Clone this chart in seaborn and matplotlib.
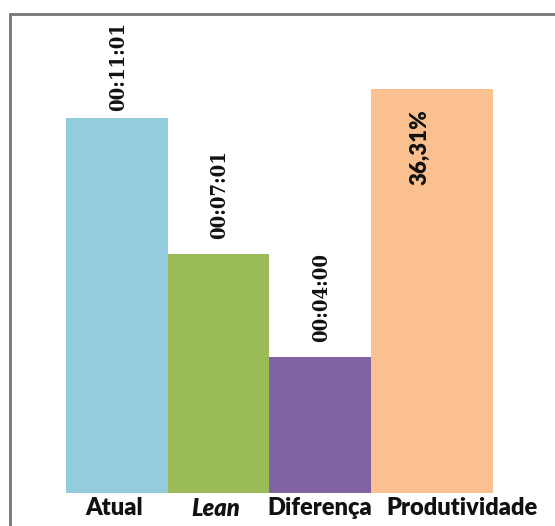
import matplotlib
matplotlib.use("Agg")
import matplotlib.pyplot as plt
import seaborn as sns
from matplotlib.lines import Line2D
from matplotlib.font_manager import FontProperties

categories = ["Atual", "Lean", "Diferença", "Produtividade"]
time_cats = ["Atual", "Lean", "Diferença"]
time_seconds = [661, 421, 240]
time_labels = ["00:11:01", "00:07:01", "00:04:00"]
prod_value = [36.31]
prod_labels = ["36,31%"]
colors = ["#93CDDD", "#9BBB59", "#8064A2", "#FAC090"]

sns.set_theme(style="white")
fig = plt.figure(figsize=(5.55, 5.26), dpi=100)
W, H = 555, 526
ax = fig.add_axes([66 / W, (H - 493) / H, 427 / W, 433 / H])

sns.barplot(x=time_cats, y=time_seconds, order=categories, hue=time_cats,
            palette=colors[:3], width=1.0, saturation=1, legend=False,
            linewidth=0, ax=ax)
ax2 = ax.twinx()
sns.barplot(x=["Produtividade"], y=prod_value, order=categories, color=colors[3],
            width=1.0, saturation=1, linewidth=0, ax=ax2)
for p in ax2.patches:
    p.set_width(1.2)

ax.set_ylim(0, 763.2)
ax2.set_ylim(0, 38.92)
for a in (ax, ax2):
    for s in a.spines.values():
        s.set_visible(False)
    a.set_yticks([])
    a.set_ylabel("")
    a.set_xlabel("")
ax.set_xlim(-0.5, 3.7)

ax.set_xticks([-0.03, 0.97, 2.0, 3.4])
ax.set_xticklabels(categories, color="#111111")
for i, t in enumerate(ax.get_xticklabels()):
    t.set_fontproperties(FontProperties(family="Lato", weight=800,
                                        style="italic" if i == 1 else "normal",
                                        size=17))
ax.tick_params(axis="x", length=0, pad=3, labelbottom=True)

label_pad = [7, 15, 15]
for i, (v, lab) in enumerate(zip(time_seconds, time_labels)):
    ax.annotate(lab, xy=(i, v), xytext=(1, label_pad[i]), textcoords="offset pixels",
                rotation=90, ha="center", va="bottom", fontsize=14.5,
                family="DejaVu Serif", fontstretch="condensed", fontweight="bold",
                color="#111111")
for i, (v, lab) in enumerate(zip(prod_value, prod_labels)):
    ax2.annotate(lab, xy=(3, v), xytext=(-2, -20), textcoords="offset pixels",
                 rotation=90, ha="center", va="top",
                 fontproperties=FontProperties(family="Lato", weight=800, size=16),
                 color="#111111")

fig.add_artist(Line2D([10 / W, 10 / W], [0, 1 - 14 / H], transform=fig.transFigure,
                      color="#777777", lw=2))
fig.add_artist(Line2D([10 / W, 1], [1 - 14 / H, 1 - 14 / H], transform=fig.transFigure,
                      color="#777777", lw=2))

fig.savefig("out.png", dpi=100)
